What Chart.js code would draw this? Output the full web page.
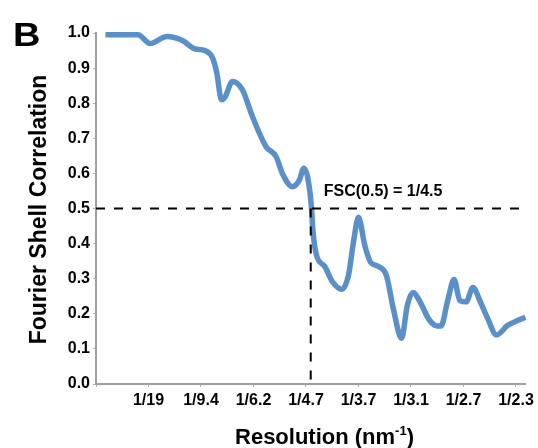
<!DOCTYPE html>
<html>
<head>
<meta charset="utf-8">
<script src="https://cdn.jsdelivr.net/npm/chart.js@4.4.1/dist/chart.umd.min.js"></script>
<style>
  html, body { margin: 0; padding: 0; background: #fff; }
  #fsc { display: block; }
</style>
</head>
<body>
<canvas id="fsc" width="538" height="448"></canvas>
<script>
// spatial frequency in tick units (1 unit ~ 1/18.8 nm^-1)
const freq = [0.18, 0.80, 1.03, 1.35, 1.64, 1.88, 2.07, 2.22, 2.30, 2.39, 2.45, 2.60, 2.79, 2.98,
  3.24, 3.43, 3.55, 3.74, 3.87, 3.96, 4.03, 4.10, 4.13, 4.19, 4.36, 4.51, 4.68, 4.81, 4.91,
  5.00, 5.12, 5.23, 5.38, 5.53, 5.67, 5.82, 5.93, 6.04, 6.18, 6.33, 6.46, 6.57, 6.70, 6.82,
  6.93, 7.05, 7.18, 7.31, 7.46, 7.63, 7.84, 8.03, 8.18];
const fsc = [0.995, 0.995, 0.97, 0.99, 0.979, 0.955, 0.95, 0.929, 0.887, 0.81, 0.815, 0.862, 0.838, 0.762,
  0.676, 0.648, 0.60, 0.562, 0.58, 0.615, 0.59, 0.51, 0.44, 0.373, 0.334, 0.29, 0.27, 0.31, 0.41,
  0.475, 0.395, 0.347, 0.335, 0.31, 0.21, 0.13, 0.224, 0.261, 0.232, 0.187, 0.167, 0.165, 0.238, 0.298,
  0.238, 0.234, 0.275, 0.238, 0.187, 0.14, 0.167, 0.181, 0.19];

const xTickLabels = ['1/19', '1/9.4', '1/6.2', '1/4.7', '1/3.7', '1/3.1', '1/2.7', '1/2.3'];
const xMax = 8.18;

// FSC = 0.5 threshold crossing
const cutoffFreq = 4.09;
const cutoffFsc = 0.5;
const cutoffLabel = 'FSC(0.5) = 1/4.5';

const FONT = '"Liberation Sans", Arial, sans-serif';
Chart.defaults.font.family = FONT;

// Titles, panel letter and the threshold label
const fscText = {
  id: 'fscText',
  afterDatasetsDraw(chart) {
    const { ctx, scales: { x, y }, chartArea } = chart;
    ctx.save();
    ctx.fillStyle = '#000';
    ctx.textBaseline = 'alphabetic';

    ctx.font = 'bold 16px ' + FONT;
    ctx.textAlign = 'left';
    ctx.fillText(cutoffLabel, x.getPixelForValue(cutoffFreq) + 13, y.getPixelForValue(cutoffFsc) - 13);

    // panel letter
    ctx.save();
    ctx.translate(13, 46);
    ctx.scale(1.15, 1);
    ctx.font = 'bold 33px ' + FONT;
    ctx.fillText('B', 0, 0);
    ctx.restore();

    // y title
    ctx.save();
    ctx.translate(46, (chartArea.top + chartArea.bottom) / 2 + 1);
    ctx.rotate(-Math.PI / 2);
    ctx.textAlign = 'center';
    ctx.font = 'bold 23px ' + FONT;
    ctx.fillText('Fourier Shell Correlation', 0, 0);
    ctx.restore();

    // x title with superscript
    const main = 'Resolution (nm', sup = '-1', end = ')';
    ctx.font = 'bold 22px ' + FONT;
    const w1 = ctx.measureText(main).width;
    const w3 = ctx.measureText(end).width;
    ctx.font = 'bold 13px ' + FONT;
    const w2 = ctx.measureText(sup).width;
    let tx = 324.5 - (w1 + w2 + w3) / 2;
    const base = 444;
    ctx.font = 'bold 22px ' + FONT;
    ctx.fillText(main, tx, base);
    tx += w1;
    ctx.font = 'bold 13px ' + FONT;
    ctx.fillText(sup, tx, base - 9);
    tx += w2;
    ctx.font = 'bold 22px ' + FONT;
    ctx.fillText(end, tx, base);
    ctx.restore();
  }
};

new Chart(document.getElementById('fsc'), {
  type: 'line',
  data: {
    datasets: [
      {
        data: freq.map((f, i) => ({ x: f, y: fsc[i] })),
        borderColor: '#5b8fc7',
        borderWidth: 5.5,
        pointRadius: 0,
        cubicInterpolationMode: 'monotone',
        clip: 8,
        order: 2
      },
      {
        data: [{ x: 0, y: cutoffFsc }, { x: xMax, y: cutoffFsc }],
        borderColor: '#000',
        borderWidth: 2,
        borderDash: [9, 9],
        pointRadius: 0,
        order: 1
      },
      {
        data: [{ x: cutoffFreq, y: cutoffFsc }, { x: cutoffFreq, y: 0 }],
        borderColor: '#000',
        borderWidth: 2,
        borderDash: [9, 9],
        pointRadius: 0,
        order: 1
      }
    ]
  },
  options: {
    responsive: false,
    animation: false,
    layout: { padding: { top: 33, right: 10, left: 0, bottom: 0 } },
    plugins: { legend: { display: false }, tooltip: { enabled: false } },
    scales: {
      x: {
        type: 'linear',
        min: 0,
        max: xMax,
        border: { color: '#a0a0a0', width: 2 },
        grid: { drawOnChartArea: false, tickLength: 3, color: '#b0b0b0' },
        ticks: {
          stepSize: 1,
          includeBounds: false,
          autoSkip: false,
          maxRotation: 0,
          padding: 4,
          color: '#000',
          font: { size: 16, weight: 'bold' },
          callback: v => (Number.isInteger(v) && v >= 1) ? xTickLabels[v - 1] : ''
        },
        afterFit: s => { s.height = 64; }
      },
      y: {
        min: 0,
        max: 1,
        border: { color: '#a0a0a0', width: 2 },
        grid: { drawOnChartArea: false, tickLength: 3, color: '#b0b0b0' },
        ticks: {
          stepSize: 0.1,
          padding: 3,
          color: '#000',
          font: { size: 16, weight: 'bold' },
          callback: v => v.toFixed(1)
        },
        afterFit: s => { s.width = 96; }
      }
    }
  },
  plugins: [fscText]
});
</script>
</body>
</html>
